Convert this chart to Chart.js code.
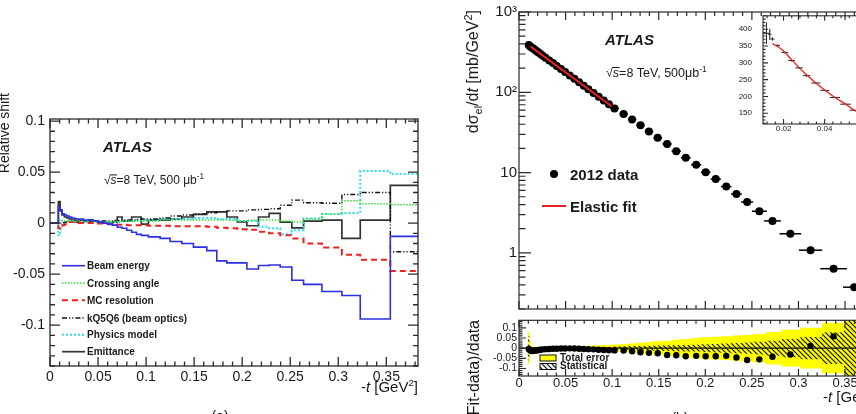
<!DOCTYPE html>
<html>
<head>
<meta charset="utf-8">
<script src="https://cdn.jsdelivr.net/npm/chart.js@4/dist/chart.umd.min.js"></script>
<style>
html, body { margin: 0; padding: 0; background: #fff; }
#wrap { position: relative; width: 856px; height: 414px; overflow: hidden; }
canvas { position: absolute; }
</style>
</head>
<body>
<div id="wrap">
  <canvas id="left" width="430" height="334" style="left:0;top:80px"></canvas>
  <canvas id="main" width="443" height="320" style="left:440px;top:0"></canvas>
  <canvas id="ratio" width="443" height="102" style="left:440px;top:312px"></canvas>
  <canvas id="inset" width="156" height="140" style="left:730px;top:0"></canvas>
</div>
<script>
// (a) relative shift of the cross section per bin, one array per systematic
var binEdges = [0, 0.0087, 0.0105, 0.0125, 0.015, 0.0175, 0.02, 0.0225, 0.025, 0.0275,
  0.03, 0.035, 0.04, 0.045, 0.05, 0.055, 0.06, 0.065, 0.07, 0.075,
  0.08, 0.085, 0.09, 0.095, 0.1024, 0.1146, 0.125, 0.1372, 0.1493, 0.1632,
  0.1736, 0.184, 0.195, 0.2049, 0.217, 0.228, 0.2396, 0.2517, 0.2639, 0.283,
  0.3038, 0.3229, 0.3542, 0.3837];
var beamEnergy = [0, 0.016, 0.012, 0.009, 0.008, 0.007, 0.006, 0.005, 0.0045, 0.004,
  0.004, 0.003, 0.003, 0.002, 0.001, 0.0, -0.001, -0.002, -0.004, -0.005,
  -0.007, -0.009, -0.011, -0.012, -0.0135, -0.015, -0.018, -0.020, -0.0235, -0.027,
  -0.037, -0.039, -0.039, -0.045, -0.0415, -0.041, -0.043, -0.056, -0.060, -0.067,
  -0.071, -0.094, -0.013];
var crossingAngle = [0, 0.003, 0.003, 0.002, 0.002, 0.002, 0.002, 0.002, 0.002, 0.002,
  0.002, 0.002, 0.002, 0.001, 0.001, 0.001, 0.001, 0.001, 0.002, 0.002,
  0.002, 0.002, 0.002, 0.002, 0.002, 0.003, 0.003, 0.003, 0.003, 0.003,
  0.003, 0.003, 0.002, 0.003, 0.003, 0.003, 0.002, 0.001, 0.004, 0.009,
  0.022, 0.019, 0.018];
var mcResolution = [0, -0.005, -0.004, -0.002, -0.001, 0.0, 0.001, 0.001, 0.001, 0.001,
  0.0, 0.0, 0.0, 0.0, -0.0005, -0.001, -0.001, -0.001, -0.0015, -0.0015,
  -0.002, -0.002, -0.002, -0.002, -0.0025, -0.0025, -0.003, -0.003, -0.003, -0.0035,
  -0.0045, -0.005, -0.006, -0.0065, -0.0085, -0.010, -0.012, -0.015, -0.020, -0.024,
  -0.031, -0.036, -0.047];
var kQ5Q6 = [0, 0.0, 0.0, 0.0005, 0.001, 0.001, 0.001, 0.001, 0.001, 0.001,
  0.001, 0.0015, 0.0015, 0.002, 0.002, 0.002, 0.002, 0.0025, 0.0025, 0.003,
  0.003, 0.003, 0.0035, 0.004, 0.004, 0.005, 0.007, 0.008, 0.009, 0.010,
  0.011, 0.012, 0.012, 0.013, 0.0135, 0.014, 0.0175, 0.0225, 0.020, 0.0195,
  0.028, 0.030, -0.028];
var physicsModel = [0, -0.012, -0.006, -0.001, 0.001, 0.002, 0.002, 0.002, 0.001, 0.001,
  0.001, 0.001, 0.001, 0.002, 0.001, 0.0, 0.001, 0.001, 0.001, 0.002,
  0.002, 0.002, 0.003, 0.003, 0.003, 0.004, 0.004, 0.004, 0.005, 0.005,
  0.004, 0.004, 0.002, 0.002, -0.0035, -0.005, -0.011, -0.007, 0.0045, 0.009,
  0.010, 0.051, 0.048];
var emittance = [0, 0.021, 0.013, 0.008, 0.006, 0.005, 0.004, 0.003, 0.003, 0.002,
  0.003, 0.002, 0.003, 0.002, 0.001, 0.0, 0.0, 0.001, 0.006, 0.002,
  0.002, 0.006, 0.006, -0.001, 0.003, 0.003, 0.004, 0.006, 0.0085, 0.011,
  0.011, 0.006, 0.0013, -0.0026, 0.006, 0.0095, 0.001, -0.0046, 0.002, 0.003,
  -0.015, 0.003, 0.037];

// (b) measured elastic cross section, fit and (fit-data)/data
var tData = [0.0105, 0.0118, 0.0131, 0.0145, 0.0160, 0.0176, 0.0193, 0.0211, 0.0230, 0.0255,
  0.0285, 0.0325, 0.0365, 0.0405, 0.0450, 0.0495, 0.0545, 0.0595, 0.0645, 0.0695,
  0.0745, 0.0800, 0.0855, 0.0910, 0.0965, 0.1025, 0.1123, 0.1214, 0.1304, 0.1395,
  0.1489, 0.1590, 0.1688, 0.1790, 0.1902, 0.2004, 0.2112, 0.2225, 0.2334, 0.2449,
  0.2580, 0.2721, 0.2913, 0.3130, 0.3377, 0.3598];
var dsigma = [387, 374, 365, 355, 345, 334, 323, 312, 300, 286,
  270, 249, 231, 213, 195, 179, 162, 147, 133, 121,
  109, 98.3, 88.3, 79.3, 71.2, 63.0, 53.7, 45.9, 38.8, 32.6,
  27.1, 22.7, 18.5, 15.3, 12.5, 10.1, 8.3, 6.7, 5.4, 4.3,
  3.3, 2.5, 1.73, 1.08, 0.635, 0.374];
var tHalfWidth = [0.0006, 0.0006, 0.0007, 0.0007, 0.0008, 0.0008, 0.0009, 0.0009, 0.0010, 0.0012,
  0.0015, 0.0020, 0.0020, 0.0020, 0.0022, 0.0023, 0.0025, 0.0025, 0.0025, 0.0025,
  0.0025, 0.0027, 0.0027, 0.0027, 0.0028, 0.0047, 0.0045, 0.0045, 0.0045, 0.0046,
  0.0047, 0.0050, 0.0050, 0.0052, 0.0055, 0.0052, 0.0055, 0.0057, 0.0058, 0.0065,
  0.0080, 0.0090, 0.0116, 0.0125, 0.0143, 0.0120];
var ratio = [-0.004, -0.010, -0.013, -0.014, -0.013, -0.012, -0.011, -0.009, -0.008, -0.006,
  -0.005, -0.004, -0.003, -0.003, -0.002, -0.002, -0.001, -0.002, -0.003, -0.004,
  -0.005, -0.006, -0.008, -0.009, -0.010, -0.011, -0.012, -0.015, -0.020, -0.023,
  -0.025, -0.034, -0.035, -0.040, -0.038, -0.040, -0.040, -0.038, -0.046, -0.058,
  -0.055, -0.042, -0.031, 0.011, 0.058, null];
var totErr = [0.080, 0.035, 0.012, 0.009, 0.008, 0.007, 0.007, 0.007, 0.007, 0.007,
  0.007, 0.007, 0.007, 0.007, 0.007, 0.007, 0.008, 0.009, 0.010, 0.011,
  0.012, 0.013, 0.014, 0.015, 0.016, 0.018, 0.020, 0.023, 0.027, 0.030,
  0.034, 0.037, 0.041, 0.045, 0.050, 0.054, 0.056, 0.058, 0.062, 0.065,
  0.070, 0.080, 0.090, 0.100, 0.125, 0.200];
var statErr = [0.060, 0.020, 0.006, 0.004, 0.003, 0.002, 0.002, 0.002, 0.002, 0.002,
  0.002, 0.002, 0.002, 0.002, 0.002, 0.002, 0.002, 0.003, 0.003, 0.003,
  0.004, 0.004, 0.005, 0.005, 0.006, 0.008, 0.009, 0.010, 0.011, 0.012,
  0.013, 0.014, 0.015, 0.016, 0.017, 0.019, 0.021, 0.023, 0.025, 0.028,
  0.031, 0.037, 0.045, 0.055, 0.078, 0.200];
var fitT = [0.0125, 0.0995];
var fitV = [370, 67];

// inset: low |t| zoom
var insetT = [0.0117, 0.0133, 0.0146, 0.0170, 0.0206, 0.0239, 0.0276, 0.0312, 0.0357, 0.0401, 0.0450, 0.0502, 0.0542];
var insetV = [388, 385, 371, 352, 331, 307, 285, 262, 240, 218, 197, 177, 159];
var insetTErr = [0.0016, 0.0008, 0.0010, 0.0013, 0.0016, 0.0016, 0.0018, 0.0018, 0.0022, 0.0022, 0.0025, 0.0026, 0.0020];
var insetVErr = [32, 17, 5, 3, 3, 3, 3, 3, 3, 2, 2, 2, 2];
var insetFitT = [0.0146, 0.0175, 0.020, 0.025, 0.030, 0.035, 0.040, 0.045, 0.050, 0.055, 0.060, 0.065];
var insetFitV = [357, 347, 335, 302, 271, 244, 219, 197, 178, 157, 141, 127];

var FONT = '"Liberation Sans", Arial, Helvetica, sans-serif';
var INK = '#1a1a1a';
Chart.defaults.font.family = FONT;
Chart.defaults.color = INK;
Chart.defaults.animation = false;
Chart.defaults.plugins.legend.display = false;
Chart.defaults.plugins.tooltip.enabled = false;

function fmt(v) {
  var r = Math.round(v * 1000) / 1000;
  return r === 0 ? '0' : String(r);
}
function logFmt(v) {
  var l = Math.log10(v);
  if (Math.abs(l - Math.round(l)) > 1e-6) return '';
  var e = Math.round(l);
  if (e === 0) return '1';
  if (e === 1) return '10';
  return '10' + '⁰¹²³⁴⁵⁶⁷⁸⁹'[e];
}
function pts(xs, ys) {
  return xs.map(function (x, i) { return {x: x, y: ys[i]}; });
}

// hatch for the statistical band
var hatch = (function () {
  var c = document.createElement('canvas');
  c.width = 5; c.height = 5;
  var g = c.getContext('2d');
  g.strokeStyle = '#111'; g.lineWidth = 1.2;
  g.beginPath();
  g.moveTo(-1, -1); g.lineTo(6, 6);
  g.moveTo(-1, 4); g.lineTo(1, 6);
  g.moveTo(4, -1); g.lineTo(6, 1);
  g.stroke();
  return g.createPattern(c, 'repeat');
})();

// frame with inward ticks on all four sides (ROOT style)
function tickMarks(sc, o) {
  var out = [];
  if (o.log) {
    for (var d = Math.floor(Math.log10(sc.min)); d <= Math.ceil(Math.log10(sc.max)); d++) {
      for (var k = 1; k < 10; k++) {
        var v = k * Math.pow(10, d);
        if (v >= sc.min && v <= sc.max) out.push([v, k === 1]);
      }
    }
  } else {
    var n0 = Math.ceil(sc.min / o.minor - 1e-6), n1 = Math.floor(sc.max / o.minor + 1e-6);
    for (var n = n0; n <= n1; n++) {
      var w = n * o.minor;
      var q = w / o.major;
      out.push([w, Math.abs(q - Math.round(q)) < 1e-6]);
    }
  }
  return out;
}
var frame = {
  id: 'frame',
  afterDatasetsDraw: function (chart, args, o) {
    var ctx = chart.ctx, a = chart.chartArea, xs = chart.scales.x, ys = chart.scales.y;
    ctx.save();
    ctx.strokeStyle = '#2a2a2a';
    ctx.lineWidth = o.lw || 1.2;
    ctx.beginPath();
    tickMarks(xs, o.x).forEach(function (m) {
      var p = xs.getPixelForValue(m[0]);
      var l = m[1] ? o.x.big : o.x.small;
      ctx.moveTo(p, a.bottom); ctx.lineTo(p, a.bottom - l);
      ctx.moveTo(p, a.top); ctx.lineTo(p, a.top + l);
    });
    tickMarks(ys, o.y).forEach(function (m) {
      var p = ys.getPixelForValue(m[0]);
      var l = m[1] ? o.y.big : o.y.small;
      ctx.moveTo(a.left, p); ctx.lineTo(a.left + l, p);
      ctx.moveTo(a.right, p); ctx.lineTo(a.right - l, p);
    });
    ctx.stroke();
    ctx.strokeRect(a.left, a.top, a.right - a.left, a.bottom - a.top);
    ctx.restore();
  }
};

// error bars from xErr / yErr arrays on a dataset
var errBars = {
  id: 'errBars',
  beforeDatasetsDraw: function (chart) {
    var ctx = chart.ctx, a = chart.chartArea, xs = chart.scales.x, ys = chart.scales.y;
    ctx.save();
    ctx.beginPath();
    ctx.rect(a.left, a.top, a.right - a.left, a.bottom - a.top);
    ctx.clip();
    chart.data.datasets.forEach(function (ds) {
      if (!ds.xErr && !ds.yErr) return;
      ctx.strokeStyle = ds.errColor || '#000';
      ctx.lineWidth = ds.errWidth || 1.5;
      ds.data.forEach(function (p, i) {
        if (p.y == null) return;
        var px = xs.getPixelForValue(p.x), py = ys.getPixelForValue(p.y);
        ctx.beginPath();
        if (ds.xErr) {
          ctx.moveTo(xs.getPixelForValue(p.x - ds.xErr[i]), py);
          ctx.lineTo(xs.getPixelForValue(p.x + ds.xErr[i]), py);
        }
        if (ds.yErr) {
          ctx.moveTo(px, ys.getPixelForValue(p.y - ds.yErr[i]));
          ctx.lineTo(px, ys.getPixelForValue(p.y + ds.yErr[i]));
        }
        ctx.stroke();
      });
    });
    ctx.restore();
  }
};

// texts, legend keys
function fontOf(p) {
  return (p.i ? 'italic ' : '') + (p.b ? 'bold ' : '') + p.s + 'px ' + FONT;
}
function drawRich(ctx, it) {
  var w = 0;
  it.parts.forEach(function (p) { ctx.font = fontOf(p); p.w = ctx.measureText(p.t).width; w += p.w; });
  ctx.save();
  ctx.translate(it.x, it.y);
  if (it.rot) ctx.rotate(it.rot * Math.PI / 180);
  var cx = it.align === 'right' ? -w : it.align === 'center' ? -w / 2 : 0;
  ctx.fillStyle = INK;
  ctx.textAlign = 'left';
  ctx.textBaseline = 'alphabetic';
  it.parts.forEach(function (p) {
    ctx.font = fontOf(p);
    ctx.fillText(p.t, cx, p.dy || 0);
    if (p.over) ctx.fillRect(cx - 0.5, (p.dy || 0) - p.s * 0.8, p.w + 1, 1);
    cx += p.w;
  });
  ctx.restore();
}
var notes = {
  id: 'notes',
  afterDraw: function (chart, args, o) {
    var ctx = chart.ctx;
    (o.items || []).forEach(function (it) {
      ctx.save();
      if (it.ds != null) {
        var ds = chart.data.datasets[it.ds];
        ctx.strokeStyle = ds.borderColor;
        ctx.lineWidth = ds.borderWidth;
        ctx.setLineDash(ds.borderDash || []);
        ctx.beginPath(); ctx.moveTo(it.x0, it.y); ctx.lineTo(it.x1, it.y); ctx.stroke();
      } else if (it.seg) {
        ctx.strokeStyle = it.color; ctx.lineWidth = it.w;
        ctx.beginPath(); ctx.moveTo(it.seg[0], it.seg[2]); ctx.lineTo(it.seg[1], it.seg[2]); ctx.stroke();
      } else if (it.dot) {
        ctx.fillStyle = '#000';
        ctx.beginPath(); ctx.arc(it.dot[0], it.dot[1], it.dot[2], 0, Math.PI * 2); ctx.fill();
      } else if (it.box) {
        ctx.fillStyle = it.fill;
        ctx.fillRect(it.box[0], it.box[1], it.box[2], it.box[3]);
        ctx.strokeStyle = '#111'; ctx.lineWidth = 1;
        ctx.strokeRect(it.box[0], it.box[1], it.box[2], it.box[3]);
      } else {
        drawRich(ctx, it);
      }
      ctx.restore();
    });
  }
};

function tTitle(s) {
  return [{t: '-', s: s}, {t: 't', s: s, i: 1}, {t: ' [GeV', s: s}, {t: '2', s: s * 0.65, dy: -s * 0.4}, {t: ']', s: s}];
}
function sqrtS(rest, s) {
  return [{t: '√', s: s}, {t: 's', s: s, i: 1, over: 1}, {t: rest, s: s}, {t: '-1', s: s * 0.68, dy: -s * 0.42}];
}
function quietGrid() {
  return {display: false, drawTicks: false};
}

// ---------- (a) ----------
function histSet(label, vals, color, dash, width) {
  return {
    label: label,
    data: binEdges.map(function (e, i) { return {x: e, y: vals[Math.min(i, vals.length - 1)]}; }),
    stepped: true,
    borderColor: color,
    borderDash: dash,
    borderWidth: width,
    pointRadius: 0,
    fill: false
  };
}
var legendRows = [185.7, 203, 220.3, 238, 254.7, 271.7];
var leftSets = [
  histSet('Beam energy', beamEnergy, '#2e2ee2', [], 1.6),
  histSet('Crossing angle', crossingAngle, '#3ddc3d', [1.5, 1.5], 1.5),
  histSet('MC resolution', mcResolution, '#ee2020', [6, 4], 2),
  histSet('kQ5Q6 (beam optics)', kQ5Q6, '#111111', [5, 2, 1.2, 2, 1.2, 2], 1.4),
  histSet('Physics model', physicsModel, '#2fdeee', [2, 2], 2),
  histSet('Emittance', emittance, '#333333', [], 1.7)
];
var leftNotes = [
  {x: 103, y: 72, parts: [{t: 'ATLAS', s: 15, b: 1, i: 1}]},
  {x: 104, y: 104, parts: sqrtS('=8 TeV, 500 μb', 12)},
  {x: 418, y: 312, align: 'right', parts: tTitle(15)},
  {x: 220, y: 341, align: 'center', parts: [{t: '(a)', s: 14}]},
  {x: 8.5, y: 13, rot: -90, align: 'right', parts: [{t: 'Relative shift', s: 14}]}
];
leftSets.forEach(function (ds, i) {
  leftNotes.push({ds: i, x0: 62, x1: 85, y: legendRows[i]});
  leftNotes.push({x: 87, y: legendRows[i] + 3.6, parts: [{t: ds.label, s: 10, b: 1}]});
});

new Chart(document.getElementById('left'), {
  type: 'line',
  data: {datasets: leftSets},
  options: {
    responsive: false,
    devicePixelRatio: 1,
    layout: {padding: {left: 0, top: 39, right: 12, bottom: 0}},
    scales: {
      x: {
        type: 'linear', min: 0, max: 0.383,
        afterFit: function (s) { s.height = 48; },
        grid: quietGrid(), border: {display: false},
        ticks: {stepSize: 0.05, includeBounds: false, padding: 3, autoSkip: false, maxRotation: 0,
          font: {size: 14}, color: INK, callback: fmt}
      },
      y: {
        min: -0.14, max: 0.102,
        afterFit: function (s) { s.width = 50; },
        grid: quietGrid(), border: {display: false},
        ticks: {stepSize: 0.05, includeBounds: false, padding: 5, autoSkip: false,
          font: {size: 14}, color: INK, callback: fmt}
      }
    },
    plugins: {
      frame: {lw: 1.3, x: {major: 0.05, minor: 0.01, big: 9, small: 4.5},
        y: {major: 0.05, minor: 0.01, big: 10, small: 5}},
      notes: {items: leftNotes}
    }
  },
  plugins: [frame, notes]
});

// ---------- (b) main ----------
new Chart(document.getElementById('main'), {
  type: 'line',
  data: {datasets: [
    {label: 'Elastic fit', data: pts(fitT, fitV), borderColor: '#ee2020', borderWidth: 2, pointRadius: 0},
    {label: '2012 data', data: pts(tData, dsigma), showLine: false, pointRadius: 4,
      pointBackgroundColor: '#000', pointBorderWidth: 0, xErr: tHalfWidth, errWidth: 1.5}
  ]},
  options: {
    responsive: false,
    devicePixelRatio: 1,
    layout: {padding: {left: 0, top: 12, right: 10, bottom: 3}},
    scales: {
      x: {
        type: 'linear', min: 0, max: 0.38,
        afterFit: function (s) { s.height = 0; },
        grid: quietGrid(), border: {display: false}, ticks: {display: false}
      },
      y: {
        type: 'logarithmic', min: 0.2, max: 1000,
        afterFit: function (s) { s.width = 79; },
        grid: quietGrid(), border: {display: false},
        ticks: {autoSkip: false, padding: 2, font: {size: 15}, color: INK, callback: logFmt}
      }
    },
    plugins: {
      frame: {lw: 1.2, x: {major: 0.05, minor: 0.01, big: 8, small: 4}, y: {log: true, big: 12, small: 6.5}},
      notes: {items: [
        {x: 165, y: 45, parts: [{t: 'ATLAS', s: 15, b: 1, i: 1}]},
        {x: 166, y: 77, parts: sqrtS('=8 TeV, 500μb', 12.5)},
        {dot: [114, 174, 4]},
        {x: 130, y: 180, parts: [{t: '2012 data', s: 15, b: 1}]},
        {seg: [102, 126, 206], color: '#ee2020', w: 2},
        {x: 130, y: 212, parts: [{t: 'Elastic fit', s: 15, b: 1}]},
        {x: 38, y: 10, rot: -90, align: 'right', parts: [
          {t: 'dσ', s: 16}, {t: 'el', s: 11, dy: 4}, {t: '/d', s: 16}, {t: 't', s: 16, i: 1},
          {t: ' [mb/GeV', s: 16}, {t: '2', s: 11, dy: -6}, {t: ']', s: 16}]}
      ]}
    }
  },
  plugins: [errBars, frame, notes]
});

// ---------- (b) ratio ----------
function band(errs, sign) {
  var out = tData.map(function (t, i) { return {x: t, y: sign * errs[i]}; });
  out.unshift({x: tData[0] - 2 * tHalfWidth[0], y: sign * errs[0]});
  out.push({x: 0.38, y: sign * errs[errs.length - 1]});
  return out;
}
var clear = 'rgba(0,0,0,0)';
new Chart(document.getElementById('ratio'), {
  type: 'line',
  data: {datasets: [
    {label: 'data', data: pts(tData, ratio), showLine: false, pointRadius: 3.2,
      pointBackgroundColor: '#000', pointBorderWidth: 0},
    {label: 'fit', data: pts([0.0105, 0.1], [0, 0]), borderColor: '#ee2020', borderWidth: 2, pointRadius: 0},
    {label: 'zero', data: pts([0, 0.38], [0, 0]), borderColor: '#111', borderWidth: 1.2, pointRadius: 0},
    {label: 'Statistical', data: band(statErr, 1), stepped: 'middle', borderColor: clear, pointRadius: 0,
      fill: '+1', backgroundColor: hatch},
    {label: 'stat low', data: band(statErr, -1), stepped: 'middle', borderColor: clear, pointRadius: 0, fill: false},
    {label: 'Total error', data: band(totErr, 1), stepped: 'middle', borderColor: clear, pointRadius: 0,
      fill: '+1', backgroundColor: '#ffff00'},
    {label: 'tot low', data: band(totErr, -1), stepped: 'middle', borderColor: clear, pointRadius: 0, fill: false}
  ]},
  options: {
    responsive: false,
    devicePixelRatio: 1,
    layout: {padding: {left: 0, top: 5, right: 10, bottom: 0}},
    scales: {
      x: {
        type: 'linear', min: 0, max: 0.38,
        afterFit: function (s) { s.height = 38; },
        grid: quietGrid(), border: {display: false},
        ticks: {stepSize: 0.05, includeBounds: false, padding: 0, autoSkip: false, maxRotation: 0,
          font: {size: 13}, color: INK, callback: fmt}
      },
      y: {
        min: -0.137, max: 0.137,
        afterFit: function (s) { s.width = 79; },
        grid: quietGrid(), border: {display: false},
        ticks: {stepSize: 0.05, includeBounds: false, padding: 2, autoSkip: false,
          font: {size: 10.5}, color: INK, callback: fmt}
      }
    },
    plugins: {
      frame: {lw: 1.2, x: {major: 0.05, minor: 0.01, big: 7, small: 3.5}, y: {major: 0.05, minor: 0.01, big: 7, small: 3.5}},
      notes: {items: [
        {box: [100, 43, 16, 6], fill: '#ffff00'},
        {x: 120, y: 48.5, parts: [{t: 'Total error', s: 10, b: 1}]},
        {box: [100, 51.5, 16, 6], fill: hatch},
        {x: 120, y: 57, parts: [{t: 'Statistical', s: 10, b: 1}]},
        {x: 383, y: 90, parts: tTitle(15)},
        {x: 240, y: 110.5, align: 'center', parts: [{t: '(b)', s: 14}]},
        {x: 38.5, y: 8, rot: -90, align: 'right', parts: [{t: '(Fit-data)/data', s: 16}]}
      ]}
    }
  },
  plugins: [frame, notes]
});

// ---------- (b) inset ----------
new Chart(document.getElementById('inset'), {
  type: 'line',
  data: {datasets: [
    {label: 'fit', data: pts(insetFitT, insetFitV), borderColor: '#ee2020', borderWidth: 1.3,
      pointRadius: 0, cubicInterpolationMode: 'monotone'},
    {label: 'data', data: pts(insetT, insetV), showLine: false, pointRadius: 0,
      xErr: insetTErr, yErr: insetVErr, errWidth: 1, errColor: '#222'}
  ]},
  options: {
    responsive: false,
    devicePixelRatio: 1,
    layout: {padding: {left: 0, top: 12, right: 10, bottom: 0}},
    scales: {
      x: {
        type: 'linear', min: 0.01, max: 0.065,
        afterFit: function (s) { s.height = 16; },
        grid: quietGrid(), border: {display: false},
        ticks: {stepSize: 0.02, includeBounds: false, padding: 0, autoSkip: false, maxRotation: 0,
          font: {size: 8}, color: INK, callback: fmt}
      },
      y: {
        min: 118, max: 440,
        afterFit: function (s) { s.width = 33; },
        grid: quietGrid(), border: {display: false},
        ticks: {stepSize: 50, includeBounds: false, padding: 11, autoSkip: false, font: {size: 8}, color: INK}
      }
    },
    plugins: {
      frame: {lw: 1.1, x: {major: 0.02, minor: 0.004, big: 5, small: 2.5}, y: {major: 50, minor: 10, big: 5, small: 2.5}}
    }
  },
  plugins: [errBars, frame]
});
</script>
</body>
</html>
